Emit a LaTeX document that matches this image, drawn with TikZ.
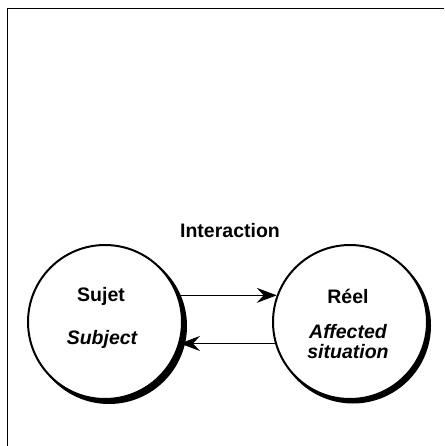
\documentclass[tikz,border=0pt]{standalone}
\usepackage{fontspec}
\setmainfont{Liberation Sans}
\usepackage{tikz}
\usetikzlibrary{calc}
\usetikzlibrary{arrows.meta}
\usetikzlibrary{positioning}

\tikzset{
    pole/.style={circle, draw=black, fill=white, line width=2pt, minimum size=154pt, inner sep=0pt},
    poleshadow/.style={circle, fill=black, minimum size=156pt, inner sep=0pt},
    poletext/.style={font=\fontsize{19.5}{22}\selectfont\bfseries, inner sep=0pt},
    poletextit/.style={font=\fontsize{19.5}{22}\selectfont\bfseries\itshape, inner sep=0pt},
    flow/.style={line width=1pt, >={Stealth[length=20pt,width=15pt,inset=7pt]}, ->}
}

\begin{document}
\begin{tikzpicture}[x=1pt,y=-1pt]
        \useasboundingbox (0,0) rectangle (444,446);
        % frame
        \draw[line width=1pt] (444,9) -- (7,9) -- (7,446);
        % shadows
        \node[poleshadow] (sujetshadow) at (109.0,326.0) {};
        \node[poleshadow] (reelshadow)  at (353.0,325.5) {};
        % poles
        \node[pole] (sujet) at (105,322) {};
        \node[pole] (reel)  at (350,322) {};
        % texts
        \node[poletext]   (interaction) at (230,231) {Interaction};
        \node[poletext]   (sujetfr)     at (101,296) {Sujet};
        \node[poletextit] (sujeten)     at (102,339) {Subject};
        \node[poletext]   (reelfr)      at (348,296) {Réel};
        \node[poletextit] (reelen)      at (348,332) {Affected};
        \node[poletextit] (reelen2)     at (348,352) {situation};
        % arrows
        \draw[flow] (sujet.20)   -- (reel.160);
        \draw[flow] (reel.-164)  -- (sujet.-16);
\end{tikzpicture}
\end{document}
